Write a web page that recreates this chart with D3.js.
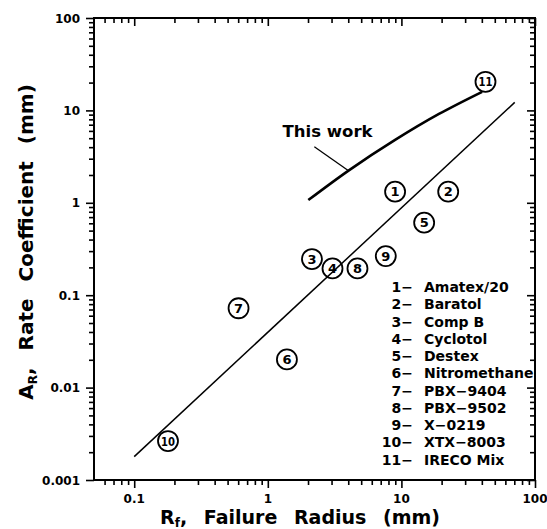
<!DOCTYPE html>
<html>
<head>
<meta charset="utf-8">
<script src="https://cdn.jsdelivr.net/npm/d3@7"></script>
<style>
  html, body { margin: 0; padding: 0; background: #fff; }
  svg { display: block; }
  text { font-family: "DejaVu Sans", sans-serif; font-weight: bold; fill: #000; }
</style>
</head>
<body>
<script>
// Explosives: failure radius vs. rate coefficient
const explosiveIds = [1, 2, 3, 4, 5, 6, 7, 8, 9, 10, 11];
const explosiveNames = ["Amatex/20", "Baratol", "Comp B", "Cyclotol", "Destex",
  "Nitromethane", "PBX-9404", "PBX-9502", "X-0219", "XTX-8003", "IRECO Mix"];
const failureRadius = [8.97, 22.4, 2.14, 3.05, 14.8, 1.39, 0.604, 4.69, 7.64, 0.179, 42.6];
const rateCoefficient = [1.32, 1.32, 0.246, 0.195, 0.61, 0.0202, 0.0722, 0.195, 0.265, 0.00264, 20.4];

// straight-line correlation through the literature data
const fitX = [0.1, 70.5];
const fitY = [0.00179, 12.2];

// curve from the present model
const thisWorkX = [2.01, 4.07, 8.97, 19.1, 40.2];
const thisWorkY = [1.07, 2.26, 4.79, 9.15, 15.9];

// pointer from the label to the curve
const leaderX = [2.23, 4.02];
const leaderY = [4.05, 2.22];
const noteX = 1.29, noteY = 5.19;

const xMajor = [0.1, 1, 10, 100];
const xTickLabels = ["0.1", "1", "10", "100"];
const yMajor = [0.001, 0.01, 0.1, 1, 10, 100];
const yTickLabels = ["0.001", "0.01", "0.1", "1", "10", "100"];

const W = 547, H = 529;
const mLeft = 94, mRight = 535, mTop = 18, mBottom = 480;

const svg = d3.select("body").append("svg").attr("width", W).attr("height", H);

const x = d3.scaleLog().domain([0.05, 100]).range([mLeft, mRight]);
const y = d3.scaleLog().domain([0.001, 100]).range([mBottom, mTop]);

const isMajor = (list, v) => list.some(m => Math.abs(m - v) / m < 1e-9);
const xMinor = x.ticks().filter(v => !isMajor(xMajor, v) && v > 0.05 * 1.0001 && v < 100);
const yMinor = y.ticks().filter(v => !isMajor(yMajor, v));

function styleAxis(g) {
  g.select(".domain").remove();
  g.selectAll(".tick line").attr("stroke", "#000").attr("stroke-width", 1.6);
  g.selectAll(".tick text").remove();
}

// minor + major ticks on all four sides
svg.append("g").attr("transform", `translate(0,${mBottom})`)
  .call(d3.axisBottom(x).tickValues(xMinor).tickSize(5)).call(styleAxis);
svg.append("g").attr("transform", `translate(0,${mBottom})`)
  .call(d3.axisBottom(x).tickValues(xMajor).tickSize(8)).call(styleAxis);
svg.append("g").attr("transform", `translate(0,${mTop})`)
  .call(d3.axisTop(x).tickValues(xMinor).tickSize(-5)).call(styleAxis);
svg.append("g").attr("transform", `translate(0,${mTop})`)
  .call(d3.axisTop(x).tickValues(xMajor).tickSize(-8)).call(styleAxis);
svg.append("g").attr("transform", `translate(${mLeft},0)`)
  .call(d3.axisLeft(y).tickValues(yMinor).tickSize(5)).call(styleAxis);
svg.append("g").attr("transform", `translate(${mLeft},0)`)
  .call(d3.axisLeft(y).tickValues(yMajor).tickSize(8)).call(styleAxis);
svg.append("g").attr("transform", `translate(${mRight},0)`)
  .call(d3.axisRight(y).tickValues(yMinor).tickSize(-5)).call(styleAxis);
svg.append("g").attr("transform", `translate(${mRight},0)`)
  .call(d3.axisRight(y).tickValues(yMajor).tickSize(-8)).call(styleAxis);

// frame
svg.append("rect").attr("x", mLeft).attr("y", mTop)
  .attr("width", mRight - mLeft).attr("height", mBottom - mTop)
  .attr("fill", "none").attr("stroke", "#000").attr("stroke-width", 2);

// tick labels
svg.append("g").selectAll("text").data(xMajor).join("text")
  .attr("x", d => x(d)).attr("y", mBottom + 23)
  .attr("text-anchor", "middle").attr("font-size", 12)
  .text((d, i) => xTickLabels[i]);
svg.append("g").selectAll("text").data(yMajor).join("text")
  .attr("x", mLeft - 14).attr("y", d => y(d) + 4.5)
  .attr("text-anchor", "end").attr("font-size", 12)
  .text((d, i) => yTickLabels[i]);

// axis titles
const xt = svg.append("text").attr("x", 300).attr("y", 524)
  .attr("text-anchor", "middle").attr("font-size", 19);
xt.append("tspan").text("R");
xt.append("tspan").attr("font-size", 12).attr("dy", 2.5).text("f");
xt.append("tspan").attr("dy", -2.5).text(",");
xt.append("tspan").attr("dx", 10).text(" Failure");
xt.append("tspan").attr("dx", 10).text(" Radius");
xt.append("tspan").attr("dx", 10).text(" (mm)");

const yt = svg.append("text")
  .attr("transform", "translate(33,242) rotate(-90)")
  .attr("text-anchor", "middle").attr("font-size", 20);
yt.append("tspan").text("A");
yt.append("tspan").attr("font-size", 12).attr("dy", 4).text("R");
yt.append("tspan").attr("dy", -4).text(",");
yt.append("tspan").attr("dx", 10).text(" Rate");
yt.append("tspan").attr("dx", 10).text(" Coefficient");
yt.append("tspan").attr("dx", 10).text(" (mm)");

// correlation line
const line = d3.line().x(d => x(d[0])).y(d => y(d[1]));
svg.append("path").datum(d3.zip(fitX, fitY))
  .attr("d", line).attr("fill", "none").attr("stroke", "#000").attr("stroke-width", 1.5);

// this-work curve
const smooth = d3.line().x(d => x(d[0])).y(d => y(d[1])).curve(d3.curveCatmullRom);
svg.append("path").datum(d3.zip(thisWorkX, thisWorkY))
  .attr("d", smooth)
  .attr("fill", "none").attr("stroke", "#000").attr("stroke-width", 2.6);

svg.append("path").datum(d3.zip(leaderX, leaderY))
  .attr("d", line).attr("fill", "none").attr("stroke", "#000").attr("stroke-width", 1.3);
svg.append("text").attr("x", x(noteX)).attr("y", y(noteY))
  .attr("font-size", 16.5).text("This work");

// numbered markers
const pts = svg.append("g").selectAll("g").data(explosiveIds).join("g")
  .attr("transform", (d, i) => `translate(${x(failureRadius[i])},${y(rateCoefficient[i])})`);
pts.append("circle").attr("r", 10).attr("fill", "none")
  .attr("stroke", "#000").attr("stroke-width", 1.8);
pts.append("text").attr("text-anchor", "middle").attr("y", 4.5)
  .attr("font-size", d => d >= 10 ? 11.5 : 13)
  .attr("textLength", d => d >= 10 ? 14 : null)
  .attr("lengthAdjust", "spacingAndGlyphs")
  .text(d => d);

// key
const key = svg.append("g").selectAll("g").data(explosiveIds).join("g")
  .attr("transform", (d, i) => `translate(0,${292 + i * 17.26})`);
key.append("text").attr("x", 413).attr("text-anchor", "end").attr("font-size", 14)
  .text(d => d + "\u2212");
key.append("text").attr("x", 424).attr("font-size", 14)
  .text((d, i) => explosiveNames[i].replace("-", "\u2212"));
</script>
</body>
</html>
